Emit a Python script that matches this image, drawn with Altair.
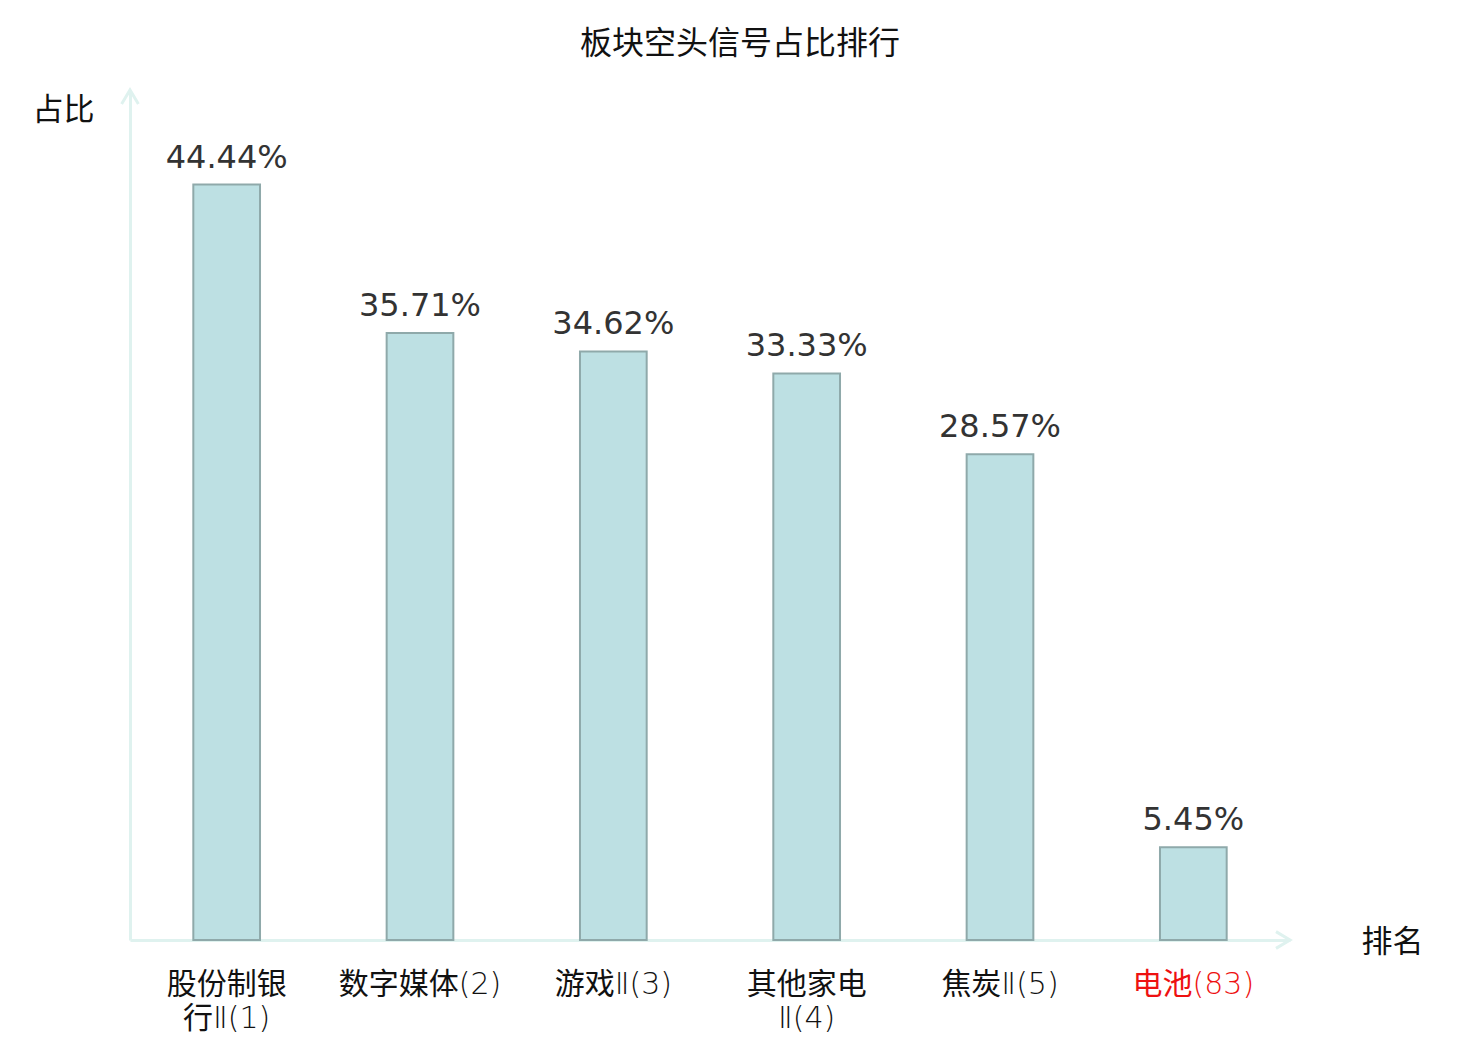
import altair as alt
import pandas as pd

categories = ["股份制银行Ⅱ(1)", "数字媒体(2)", "游戏Ⅱ(3)", "其他家电Ⅱ(4)", "焦炭Ⅱ(5)", "电池(83)"]
values = [44.44, 35.71, 34.62, 33.33, 28.57, 5.45]
highlight = "电池(83)"

W, H = 1160, 850
CJK = "Noto Sans CJK SC"
LABEL_FONT = "'DejaVu Sans Light', 'Noto Sans CJK SC'"
AXIS_COLOR = "#dff2ef"

df = pd.DataFrame({"cat": categories, "val": values})
df["label"] = [f"{v:.2f}%" for v in values]

xscale = alt.Scale(paddingInner=0.655, paddingOuter=0.3275)
yscale = alt.Scale(domain=[0, 50])

x_axis = alt.Axis(
    labelAngle=0, ticks=False, grid=False,
    domainColor=AXIS_COLOR, domainWidth=3,
    labelFont=LABEL_FONT, labelFontSize=30, labelPadding=29, labelLineHeight=34,
    labelColor={"condition": {"test": f"datum.value == '{highlight}'", "value": "#ee1111"}, "value": "#111111"},
    labelExpr="length(datum.label) > 7 ? [substring(datum.label, 0, 4), substring(datum.label, 4)] : datum.label",
    title="排名", titleFont=CJK, titleFontSize=31, titleFontWeight="normal", titleColor="#111111",
    titleX=1262, titleY=2, titleAlign="center", titleBaseline="middle", titleAngle=0,
)
y_axis = alt.Axis(
    ticks=False, labels=False, grid=False,
    domainColor=AXIS_COLOR, domainWidth=3,
    title="占比", titleFont=CJK, titleFontSize=31, titleFontWeight="normal", titleColor="#111111",
    titleAngle=0, titleX=-67, titleY=20, titleAlign="center", titleBaseline="middle",
)

base = alt.Chart(df)

bars = base.mark_bar(color="#bde0e3", stroke="#8fa9aa", strokeWidth=2).encode(
    x=alt.X("cat:N", sort=categories, scale=xscale, axis=x_axis),
    y=alt.Y("val:Q", scale=yscale, axis=y_axis),
)

texts = base.mark_text(
    font="DejaVu Sans", fontSize=32, color="#333333", baseline="alphabetic", dy=-17
).encode(
    x=alt.X("cat:N", sort=categories, scale=xscale),
    y=alt.Y("val:Q", scale=yscale),
    text="label:N",
)

arrow_df = pd.DataFrame({"a": [0]})
arrow_right = alt.Chart(arrow_df).mark_point(
    shape="M-1,-0.6L0,0L-1,0.6", filled=False, stroke=AXIS_COLOR, strokeWidth=3, size=784, opacity=1
).encode(x=alt.value(W), y=alt.value(H))
arrow_up = alt.Chart(arrow_df).mark_point(
    shape="M-0.6,1L0,0L0.6,1", filled=False, stroke=AXIS_COLOR, strokeWidth=3, size=784, opacity=1
).encode(x=alt.value(0), y=alt.value(0))

chart = alt.layer(bars, texts, arrow_right, arrow_up).properties(
    width=W, height=H,
    title=alt.TitleParams(
        "板块空头信号占比排行", font=CJK, fontSize=32, fontWeight="normal", color="#111111",
        anchor="middle", dx=30, baseline="middle", offset=8,
    ),
    background="white",
    autosize=alt.AutoSizeParams(type="none"),
    padding={"left": 122, "top": 82, "right": 180, "bottom": 100},
).configure_view(stroke=None)

chart.save("out.html", embed_options={"renderer": "svg", "actions": False})
